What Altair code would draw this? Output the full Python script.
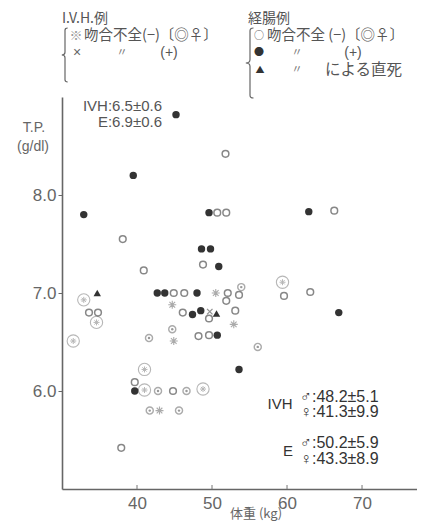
import altair as alt
import pandas as pd

# ---------------- data ----------------
ivh_ok_kg = [50.5, 44.7, 52.9, 44.9, 43.0]
ivh_ok_tp = [7.00, 6.88, 6.68, 6.51, 5.80]

ivh_fem_kg = [32.9, 34.6, 31.5, 59.4, 41.0, 41.0, 48.8]
ivh_fem_tp = [6.93, 6.70, 6.51, 7.11, 6.22, 6.01, 6.02]

ivh_leak_kg = [49.7]
ivh_leak_tp = [6.81]

e_ok_kg = [38.1, 40.9, 33.6, 34.8, 44.9, 46.3, 52.1, 53.6, 51.9, 50.7, 51.9, 48.8,
           51.8, 66.3, 59.6, 63.1, 46.1, 49.6, 53.1, 48.2, 49.6, 39.7, 44.8, 37.9]
e_ok_tp = [7.55, 7.23, 6.80, 6.80, 7.00, 7.00, 7.00, 6.98, 6.92, 7.82, 7.82, 7.29,
           8.42, 7.84, 6.97, 7.01, 6.80, 6.74, 6.82, 6.56, 6.57, 6.09, 6.00, 5.42]

e_fem_kg = [44.7, 56.1, 42.8, 46.6, 41.7, 45.6, 53.9, 41.6]
e_fem_tp = [6.63, 6.45, 6.00, 6.00, 5.80, 5.80, 7.06, 6.54]

e_leak_kg = [39.5, 32.9, 42.7, 43.7, 48.0, 49.6, 48.6, 49.8, 50.9, 62.9, 66.9,
             47.4, 48.5, 50.7, 53.6, 39.7, 45.2]
e_leak_tp = [8.20, 7.80, 7.00, 7.00, 7.00, 7.82, 7.45, 7.45, 7.27, 7.83, 6.80,
             6.78, 6.82, 6.57, 6.22, 6.00, 8.82]

e_death_kg = [34.7, 50.6]
e_death_tp = [7.00, 6.79]

x_ticks = [40, 50, 60, 70]
y_ticks = [6.0, 7.0, 8.0]

rows = []
for g, ks, ts in [("ivh_ok", ivh_ok_kg, ivh_ok_tp), ("ivh_fem", ivh_fem_kg, ivh_fem_tp),
                  ("ivh_leak", ivh_leak_kg, ivh_leak_tp), ("e_ok", e_ok_kg, e_ok_tp),
                  ("e_fem", e_fem_kg, e_fem_tp), ("e_leak", e_leak_kg, e_leak_tp),
                  ("e_death", e_death_kg, e_death_tp)]:
    for k, t in zip(ks, ts):
        rows.append({"kg": k, "tp": t, "g": g})
df = pd.DataFrame(rows)

# ---------------- layout ----------------
W, H = 355, 392
PAD_L, PAD_T = 54, 89
X0, Y0 = 8 + PAD_L, 8 + PAD_T   # page position of plot origin

LAT = "Liberation Sans, DejaVu Sans, Noto Sans CJK JP"
CJK = "Noto Sans CJK JP, Noto Sans CJK SC, sans-serif"

AST = "M-1,0L1,0M0,-1L0,1M-0.71,-0.71L0.71,0.71M-0.71,0.71L0.71,-0.71"
XSH = "M-1,-1L1,1M-1,1L1,-1"
BRACE = "M0.1,-1Q0,-1 0,-0.92L0,-0.1Q0,0 -0.12,0Q0,0 0,0.1L0,0.92Q0,1 0.1,1"

xscale = alt.Scale(domain=[30, 77.33], nice=False, zero=False)
xaxis = alt.Axis(values=x_ticks, format="d", title=None, grid=False,
                 domainColor="#666", domainWidth=1.6, ticks=False,
                 labelFont=LAT, labelFontSize=17, labelColor="#666",
                 labelPadding=6)
xenc = alt.X("kg:Q", scale=xscale, axis=xaxis)
yenc = alt.Y("tp:Q", scale=alt.Scale(domain=[5, 9], nice=False, zero=False),
             axis=alt.Axis(values=y_ticks, format=".1f", title=None, grid=False,
                           domainColor="#666", domainWidth=1.6, tickColor="#666",
                           tickSize=4, labelFont=LAT, labelFontSize=17, labelColor="#666",
                           labelPadding=2))

base = alt.Chart(df).encode(x=xenc, y=yenc)

def grp(name):
    return base.transform_filter(alt.datum.g == name)

# inward x ticks, drawn from the tick values
xtick_layer = alt.Chart(pd.DataFrame({"kg": x_ticks})).mark_rule(
    color="#777", strokeWidth=1).encode(
    x=xenc, y=alt.value(H), y2=alt.value(H - 4))

layers = [
    grp("ivh_fem").mark_point(shape="circle", size=150, filled=False, stroke="#999", strokeWidth=1.1),
    grp("ivh_fem").mark_point(shape=AST, size=36, filled=False, stroke="#999", strokeWidth=1),
    grp("ivh_ok").mark_point(shape=AST, size=64, filled=False, stroke="#888", strokeWidth=1.1),
    grp("ivh_leak").mark_point(shape=XSH, size=30, filled=False, stroke="#666", strokeWidth=1.3),
    grp("e_ok").mark_point(shape="circle", size=45, filled=False, stroke="#555", strokeWidth=1.5),
    grp("e_fem").mark_point(shape="circle", size=50, filled=False, stroke="#888", strokeWidth=1.4),
    grp("e_fem").mark_point(shape="circle", size=6, filled=True, fill="#999", opacity=1, strokeWidth=0),
    grp("e_leak").mark_point(shape="circle", size=55, filled=True, fill="#333", opacity=1, strokeWidth=0),
    grp("e_death").mark_point(shape="triangle-up", size=55, filled=True, fill="#333", opacity=1, strokeWidth=0),
    xtick_layer,
]

one = pd.DataFrame({"a": [0]})

def txt(s, px, py, size=15, align="left", color="#555", font=LAT):
    return alt.Chart(one).mark_text(text=s, align=align, baseline="middle", fontSize=size,
                                    font=font, color=color).encode(
        x=alt.value(px - X0), y=alt.value(py - Y0))

def brace(px, py, h):
    return alt.Chart(one).mark_point(shape=BRACE, size=h * h, filled=False, stroke="#666",
                                     strokeWidth=1.2, opacity=1).encode(
        x=alt.value(px - X0), y=alt.value(py - Y0))

# legend / annotation texts
leg_ivh = "I.V.H.例"
leg_e = "経腸例"
leg_ok = "吻合不全(−)〔◎♀〕"
leg_ok_e = "吻合不全 (−)〔◎♀〕"
ditto = "〃"
plus = "(+)"
death = "による直死"

R0, R1, R2, R3 = 19, 36, 53, 70

notes = [
    txt(leg_ivh, 62, R0, 14, color="#555", font=CJK),
    brace(65, 55, 54),
    txt("※", 76, R1, 13, "center", "#999", CJK),
    txt(leg_ok, 84, R1, 14.5, color="#555", font=CJK),
    txt("×", 77, R2, 14, "center", "#666", LAT),
    txt(ditto, 122, R2, 11, "center", "#777", CJK),
    txt(plus, 169, R2, 14, "center", "#555", LAT),

    txt(leg_e, 248, R0, 14, color="#555", font=CJK),
    brace(250, 63, 70),
    txt("○", 259, R1, 10, "center", "#555", CJK),
    txt(leg_ok_e, 267, R1, 14.5, color="#555", font=CJK),
    txt("●", 259, R2, 10, "center", "#333", CJK),
    txt(ditto, 297, R2, 11, "center", "#777", CJK),
    txt(plus, 353, R2, 14, "center", "#555", LAT),
    txt("▲", 260, R3, 9, "center", "#333", CJK),
    txt(ditto, 297, R3, 11, "center", "#777", CJK),
    txt(death, 325, R3, 15.5, color="#555", font=CJK),

    txt("IVH:6.5±0.6", 162, 106, 15, "right", "#555"),
    txt("E:6.9±0.6", 162, 122, 15, "right", "#555"),
    txt("T.P.", 34, 128, 14, "center", "#666"),
    txt("(g/dl)", 33, 147, 14, "center", "#666"),

    txt("IVH", 280, 404, 15, "center", "#333"),
    txt("♂:48.2±5.1", 300, 397, 16, color="#333"),
    txt("♀:41.3±9.9", 300, 412, 16, color="#333"),
    txt("E", 288, 451, 15, "center", "#333"),
    txt("♂:50.2±5.9", 300, 443, 16, color="#333"),
    txt("♀:43.3±8.9", 300, 459, 16, color="#333"),

    txt("体重 (kg)", 256, 514, 13, "center", "#666", CJK),
]

chart = alt.layer(*layers, *notes).properties(
    width=W, height=H,
    padding={"left": PAD_L, "top": PAD_T, "right": 0, "bottom": 35},
    autosize=alt.AutoSizeParams(type="none"),
).configure_view(stroke=None)

chart.save("out.html", embed_options={"renderer": "svg", "actions": False})
